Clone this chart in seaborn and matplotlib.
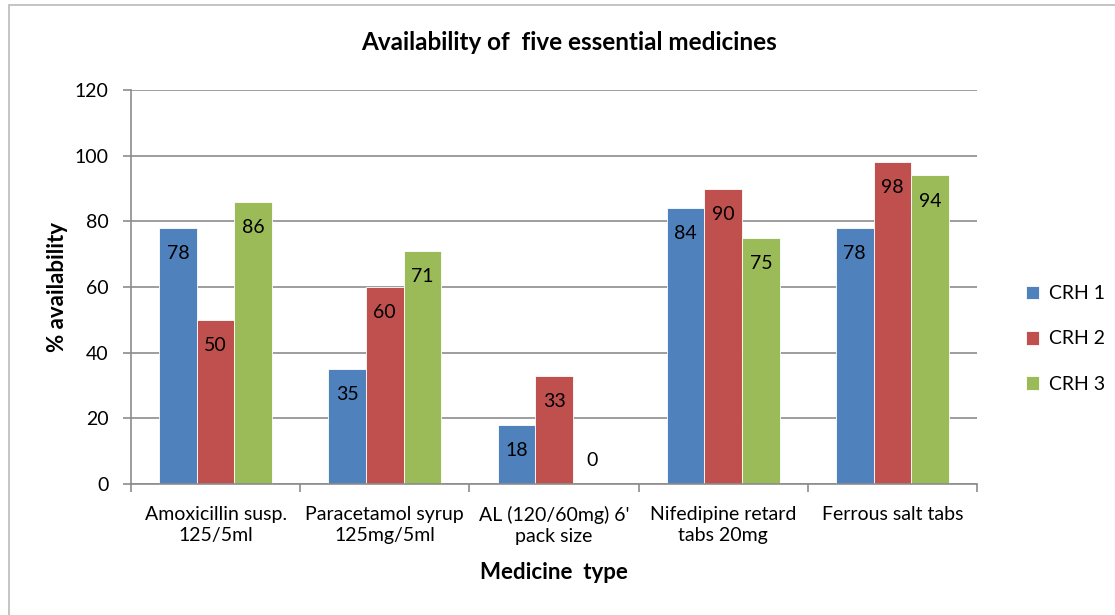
import matplotlib
matplotlib.use("Agg")
import matplotlib.pyplot as plt
from matplotlib.patches import Rectangle
import seaborn as sns
import pandas as pd

# Availability (%) of five essential medicines in three regional hospitals
medicines = [
    "Amoxicillin susp.\n125/5ml",
    "Paracetamol syrup\n125mg/5ml",
    "AL (120/60mg) 6'\npack size",
    "Nifedipine retard\ntabs 20mg",
    "Ferrous salt tabs",
]
hospitals = ["CRH 1", "CRH 2", "CRH 3"]
crh1 = [78, 35, 18, 84, 78]
crh2 = [50, 60, 33, 90, 98]
crh3 = [86, 71, 0, 75, 94]
colors = ["#4F81BD", "#C0504D", "#9BBB59"]
y_ticks = [0, 20, 40, 60, 80, 100, 120]

df = pd.DataFrame({
    "medicine": medicines * 3,
    "hospital": [h for h in hospitals for _ in medicines],
    "value": crh1 + crh2 + crh3,
})

sns.set_theme(style="white")
plt.rcParams["font.family"] = ["Lato", "DejaVu Sans"]
plt.rcParams["text.color"] = "black"
plt.rcParams["xtick.color"] = "black"
plt.rcParams["ytick.color"] = "black"
plt.rcParams["axes.labelcolor"] = "black"

W, H = 1115, 615
fig = plt.figure(figsize=(W / 100, H / 100), dpi=100)
fig.patch.set_facecolor("white")
ax = fig.add_axes([131 / W, 1 - 484 / H, (977 - 131) / W, (484 - 90) / H])

sns.barplot(data=df, x="medicine", y="value", hue="hospital",
            palette=colors, width=0.667, gap=0, saturation=1,
            edgecolor="white", linewidth=0.6, ax=ax, legend=True)

# value labels just inside the end of each bar
for container in ax.containers:
    for bar in container:
        h = bar.get_height()
        cx = bar.get_x() + bar.get_width() / 2
        off = -18.5 if h > 0 else 17
        ax.annotate(f"{h:.0f}", xy=(cx, h), xytext=(0, off),
                    textcoords="offset points", ha="center", va="center",
                    fontsize=14, color="black")

ax.set_ylim(0, 120)
ax.set_yticks(y_ticks)
ax.set_xlim(-0.5, len(medicines) - 0.5)
ax.yaxis.grid(True, color="#8C8C8C", linewidth=1.2)
ax.set_axisbelow(True)
for side in ["top", "right"]:
    ax.spines[side].set_visible(False)
for side in ["left", "bottom"]:
    ax.spines[side].set_color("#8C8C8C")
    ax.spines[side].set_linewidth(1.2)

ax.tick_params(axis="y", which="major", left=True, length=6, width=1.2,
               color="#8C8C8C", labelcolor="black", labelsize=14, pad=10)
ax.set_xticks(range(len(medicines)))
ax.set_xticklabels(medicines, fontsize=14, linespacing=1.3)
ax.tick_params(axis="x", which="major", bottom=False, pad=10,
               labelcolor="black")
ax.set_xticks([i - 0.5 for i in range(len(medicines) + 1)], minor=True)
ax.tick_params(axis="x", which="minor", bottom=True, length=6, width=1.2,
               color="#8C8C8C")

ax.set_xlabel("Medicine  type", fontsize=16, fontweight="bold", labelpad=12)
ax.set_ylabel("% availability", fontsize=16, fontweight="bold", labelpad=5)
fig.text(569 / W, 1 - 43 / H, "Availability of  five essential medicines",
         ha="center", va="center", fontsize=17.5, fontweight="bold")

leg = ax.legend(loc="center left", bbox_to_anchor=(1016 / W, 1 - 339 / H),
                bbox_transform=fig.transFigure, frameon=False, fontsize=14,
                handlelength=0.7, handleheight=0.7, handletextpad=0.5,
                labelspacing=1.45, borderpad=0)
for t in leg.get_texts():
    t.set_color("black")

fig.patches.append(Rectangle((8.5 / W, -0.1), 1.2, 1 - 4.5 / H + 0.1,
                             transform=fig.transFigure, fill=False,
                             edgecolor="#BFBFBF", linewidth=1.3))

fig.savefig("out.png", dpi=100, facecolor="white")
